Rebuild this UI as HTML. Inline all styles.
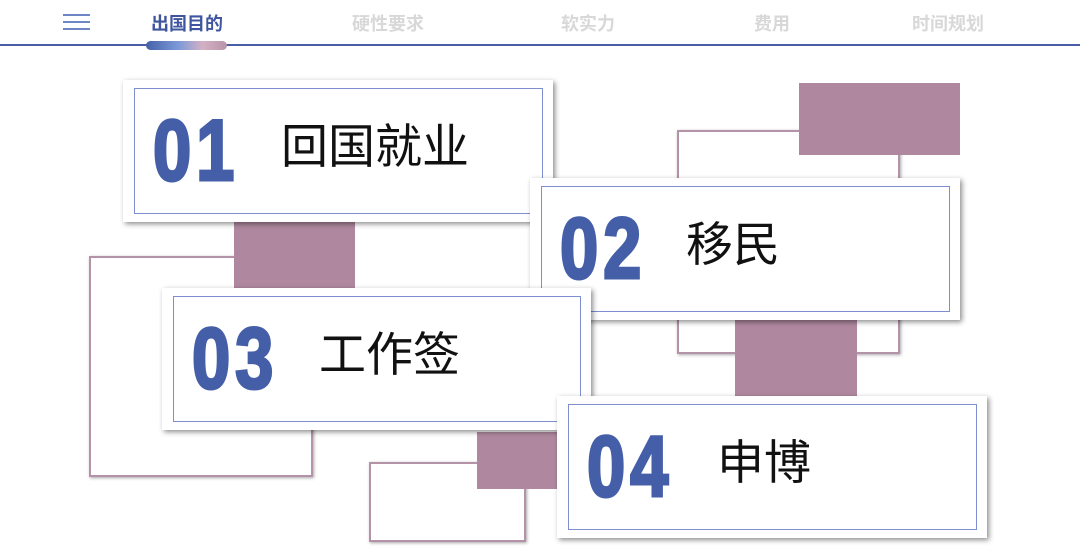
<!DOCTYPE html>
<html><head><meta charset="utf-8"><style>
body{margin:0;width:1080px;height:560px;background:#fff;position:relative;overflow:hidden;font-family:"Liberation Sans","Noto Sans CJK SC",sans-serif}
.a{position:absolute;box-sizing:border-box}
.tab{position:absolute;top:10px;font-size:18px;font-weight:bold;color:#d8d8d8;transform:translateX(-50%);white-space:nowrap}
.fill{background:#af889f}
.out{border:2px solid #b492a8;box-shadow:1px 1px 3px rgba(0,0,0,.35)}
.card{background:#fff;box-shadow:2px 2px 5px rgba(0,0,0,.45)}
.inner{position:absolute;left:11px;top:8px;right:10px;bottom:8px;border:1.5px solid #7d8fd0}
.num{position:absolute;font-family:"Liberation Sans",sans-serif;font-weight:bold;font-size:86px;color:#445ea8;line-height:1;letter-spacing:6px;transform:scaleX(0.8);transform-origin:left;-webkit-text-stroke:3px #445ea8}
.txt{position:absolute;font-size:47px;color:#111;line-height:1}
</style></head><body>
<div class="a" style="left:63px;top:14px;width:27px;height:2px;background:#6f86c6"></div>
<div class="a" style="left:63px;top:21px;width:27px;height:2px;background:#6f86c6"></div>
<div class="a" style="left:63px;top:28px;width:27px;height:2px;background:#6f86c6"></div>
<div class="tab" style="left:187px;color:#3f55a0">出国目的</div>
<div class="tab" style="left:388px">硬性要求</div>
<div class="tab" style="left:588px">软实力</div>
<div class="tab" style="left:772px">费用</div>
<div class="tab" style="left:948px">时间规划</div>
<div class="a" style="left:0;top:44px;width:1080px;height:2px;background:#4a5ea8"></div>
<div class="a" style="left:146px;top:41px;width:81px;height:9px;border-radius:5px;background:linear-gradient(90deg,#4560a8,#7c9ad8 40%,#d4b0c4 70%,#b894aa)"></div>

<div class="a out" style="left:89px;top:256px;width:224px;height:221px"></div>
<div class="a out" style="left:677px;top:130px;width:223px;height:224px"></div>
<div class="a out" style="left:369px;top:462px;width:157px;height:80px"></div>
<div class="a fill" style="left:234px;top:222px;width:121px;height:68px"></div>
<div class="a fill" style="left:799px;top:83px;width:161px;height:72px"></div>
<div class="a fill" style="left:735px;top:320px;width:122px;height:77px"></div>
<div class="a fill" style="left:477px;top:432px;width:80px;height:57px"></div>

<div class="a card" style="left:123px;top:80px;width:430px;height:142px"><div class="inner"></div>
<div class="num" style="left:30px;top:28px">01</div><div class="txt" style="left:158px;top:43px">回国就业</div></div>
<div class="a card" style="left:530px;top:178px;width:430px;height:142px"><div class="inner"></div>
<div class="num" style="left:30px;top:28px">02</div><div class="txt" style="left:156px;top:43px">移民</div></div>
<div class="a card" style="left:162px;top:288px;width:429px;height:142px"><div class="inner"></div>
<div class="num" style="left:30px;top:28px">03</div><div class="txt" style="left:157px;top:43px">工作签</div></div>
<div class="a card" style="left:557px;top:396px;width:430px;height:142px"><div class="inner"></div>
<div class="num" style="left:30px;top:28px">04</div><div class="txt" style="left:160px;top:43px">申博</div></div>
</body></html>
